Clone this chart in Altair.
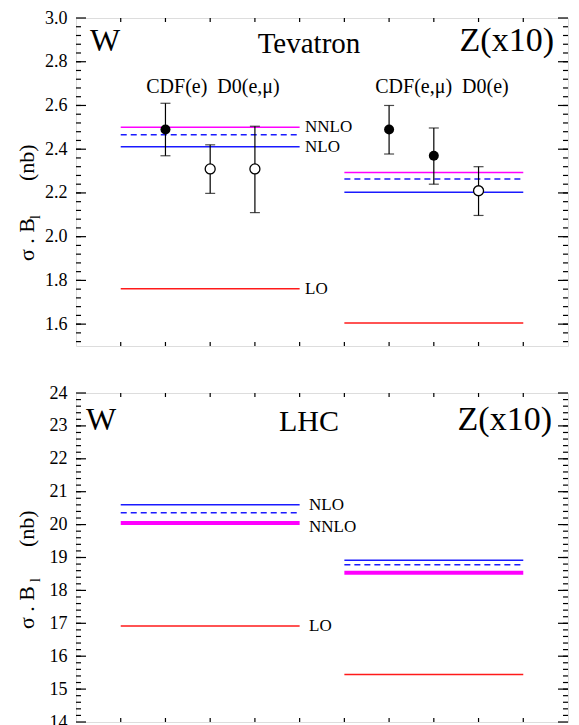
import altair as alt
import pandas as pd
import numpy as np

FONT = "Liberation Serif, Times New Roman, serif"
PW = 492          # plot width
H_TOP = 328
H_BOT = 329
NB = "\u00a0"

# ---------------- data ----------------
process = ["W", "Z"]
x_start = [1, 6]
x_end = [5, 10]

# Tevatron theory, sigma.B (nb); Z multiplied by 10
tev_LO = [1.762, 1.605]
tev_NLO = [2.411, 2.203]
tev_dashed = [2.466, 2.264]
tev_NNLO = [2.500, 2.294]

# LHC theory
lhc_LO = [16.92, 15.44]
lhc_NLO = [20.60, 18.92]
lhc_dashed = [20.36, 18.78]
lhc_NNLO = [20.05, 18.54]

# Tevatron measurements
exp_name = ["CDF(e)", "D0(e,μ)", "D0(e,μ)", "CDF(e,μ)", "CDF(e,μ)", "D0(e)"]
exp_x = [2, 3, 4, 7, 8, 9]
exp_val = [2.49, 2.31, 2.31, 2.49, 2.37, 2.21]
exp_lo = [2.37, 2.198, 2.11, 2.378, 2.24, 2.097]
exp_hi = [2.61, 2.42, 2.505, 2.60, 2.497, 2.32]
exp_filled = [True, False, False, True, True, False]

top_major = [1.6, 1.8, 2.0, 2.2, 2.4, 2.6, 2.8, 3.0]
bot_major = [14, 15, 16, 17, 18, 19, 20, 21, 22, 23, 24]
x_ticks = [1, 2, 3, 4, 5, 6, 7, 8, 9, 10]

top_minor = [round(v, 2) for v in np.arange(1.52, 3.0, 0.04)]
bot_minor = [round(v, 1) for v in np.arange(14.2, 24.0, 0.2)]

xsc = alt.Scale(domain=[0, 11], nice=False, zero=False)


def theory_df(LO, NLO, dashed, NNLO):
    return pd.DataFrame({"process": process, "x0": x_start, "x1": x_end,
                         "LO": LO, "NLO": NLO, "dashed": dashed, "NNLO": NNLO})


def panel(th, ysc, yaxis, H, major, minor, nnlo_width, label_ys, label_x,
          texts, title_pos, exp=None):
    layers = []
    maj = pd.DataFrame({"v": major})
    mnr = pd.DataFrame({"v": minor})
    xt = pd.DataFrame({"v": x_ticks})
    Y = lambda f: alt.Y(f, scale=ysc, axis=yaxis)
    # inward ticks (first layer carries the y axis labels)
    layers.append(alt.Chart(maj).mark_rule(color="black", strokeWidth=1.2).encode(
        y=Y("v:Q"), x=alt.value(0), x2=alt.value(10)))
    layers.append(alt.Chart(maj).mark_rule(color="black", strokeWidth=1.2).encode(
        y=Y("v:Q"), x=alt.value(PW - 10), x2=alt.value(PW)))
    layers.append(alt.Chart(mnr).mark_rule(color="black", strokeWidth=1.2).encode(
        y=Y("v:Q"), x=alt.value(0), x2=alt.value(5)))
    layers.append(alt.Chart(mnr).mark_rule(color="black", strokeWidth=1.2).encode(
        y=Y("v:Q"), x=alt.value(PW - 5), x2=alt.value(PW)))
    layers.append(alt.Chart(xt).mark_rule(color="black", strokeWidth=1.2).encode(
        x=alt.X("v:Q", scale=xsc, axis=None), y=alt.value(0), y2=alt.value(4)))
    layers.append(alt.Chart(xt).mark_rule(color="black", strokeWidth=1.2).encode(
        x=alt.X("v:Q", scale=xsc, axis=None), y=alt.value(H - 4), y2=alt.value(H)))

    # theory lines
    styles = [("LO", "#ff1a1a", 1.5, None),
              ("NLO", "#1a1aff", 1.5, None),
              ("dashed", "#1a1aff", 1.5, [6, 4]),
              ("NNLO", "#ff00ff", nnlo_width, None)]
    for col, color, w, dash in styles:
        kw = dict(color=color, strokeWidth=w)
        if dash:
            kw["strokeDash"] = dash
        layers.append(alt.Chart(th).mark_rule(**kw).encode(
            x=alt.X("x0:Q", scale=xsc, axis=None), x2="x1:Q", y=Y(col + ":Q")))

    # line labels next to W lines
    for lab, yv in label_ys:
        layers.append(alt.Chart(pd.DataFrame({"y": [yv], "t": [lab]})).mark_text(
            font=FONT, fontSize=17, align="left", baseline="middle", color="black").encode(
            x=alt.value(label_x), y=Y("y:Q"), text="t:N"))

    if exp is not None:
        layers.append(alt.Chart(exp).mark_rule(color="black", strokeWidth=1.2).encode(
            x=alt.X("x:Q", scale=xsc, axis=None), y=Y("lo:Q"), y2="hi:Q"))
        for c in ["lo", "hi"]:
            layers.append(alt.Chart(exp).mark_tick(color="black", orient="horizontal",
                                                   size=10, thickness=1.2).encode(
                x=alt.X("x:Q", scale=xsc, axis=None), y=Y(c + ":Q")))
        layers.append(alt.Chart(exp).transform_filter("datum.filled").mark_point(
            shape="circle", filled=True, color="black", size=100, opacity=1).encode(
            x=alt.X("x:Q", scale=xsc, axis=None), y=Y("val:Q")))
        layers.append(alt.Chart(exp).transform_filter("!datum.filled").mark_point(
            shape="circle", filled=True, fill="white", stroke="black", strokeWidth=1.3,
            size=100, opacity=1).encode(
            x=alt.X("x:Q", scale=xsc, axis=None), y=Y("val:Q")))

    # free texts
    for t, x, y, size, align in texts:
        layers.append(alt.Chart(pd.DataFrame({"t": [t]})).mark_text(
            font=FONT, fontSize=size, align=align, baseline="alphabetic", color="black").encode(
            x=alt.value(x), y=alt.value(y), text="t:N"))

    # rotated y-axis title: sigma . B_l (nb)
    xb, y_main, y_sub, y_nb = title_pos
    for t, x, y, size in [("σ . B", xb, y_main, 22), ("l", xb + 6, y_sub, 14),
                          ("(nb)", xb, y_nb, 22)]:
        layers.append(alt.Chart(pd.DataFrame({"t": [t]})).mark_text(
            font=FONT, fontSize=size, align="left", baseline="alphabetic", angle=270,
            color="black").encode(x=alt.value(x), y=alt.value(y), text="t:N"))

    return alt.layer(*layers).properties(width=PW, height=H)


axis_common = dict(title=None, grid=False, ticks=False, domain=False,
                   labelFont=FONT, labelFontSize=18, labelColor="black",
                   labelPadding=9, labelFlush=False, labelOverlap=False)

top_axis = alt.Axis(values=top_major, format=".1f", **axis_common)
bot_axis = alt.Axis(values=bot_major, format="d", **axis_common)

exp_df = pd.DataFrame({"name": exp_name, "x": exp_x, "val": exp_val,
                       "lo": exp_lo, "hi": exp_hi, "filled": exp_filled})

top = panel(theory_df(tev_LO, tev_NLO, tev_dashed, tev_NNLO),
            alt.Scale(domain=[1.5, 3.0], nice=False, zero=False), top_axis, H_TOP,
            top_major, top_minor, 1.5,
            [("NNLO", tev_NNLO[0]), ("NLO", tev_NLO[0]), ("LO", tev_LO[0])], 229,
            [("W", 14, 33, 32, "left"), ("Tevatron", 233, 35, 29, "center"),
             ("Z(x10)", 478, 33, 34, "right"),
             ("CDF(e)" + NB + NB + "D0(e,μ)", 137, 75, 20, "center"),
             ("CDF(e,μ)" + NB + NB + "D0(e)", 366, 75, 20, "center")],
            (-42, 243, 201, 163), exp=exp_df)

bottom = panel(theory_df(lhc_LO, lhc_NLO, lhc_dashed, lhc_NNLO),
               alt.Scale(domain=[14, 24], nice=False, zero=False), bot_axis, H_BOT,
               bot_major, bot_minor, 4,
               [("NLO", lhc_NLO[0]), ("NNLO", lhc_NNLO[0] - 0.12), ("LO", lhc_LO[0])], 233,
               [("W", 10, 37, 32, "left"), ("LHC", 233, 38, 30, "center"),
                ("Z(x10)", 476, 37, 34, "right")],
               (-42, 236, 189, 154))

chart = alt.vconcat(top, bottom, spacing=47, bounds="flush").properties(
    padding={"left": 7, "top": 0, "right": 0, "bottom": 0}
).configure_view(stroke="black", strokeWidth=1.5).configure(background="white")

chart.save("out.html", embed_options={"renderer": "svg", "actions": False})
